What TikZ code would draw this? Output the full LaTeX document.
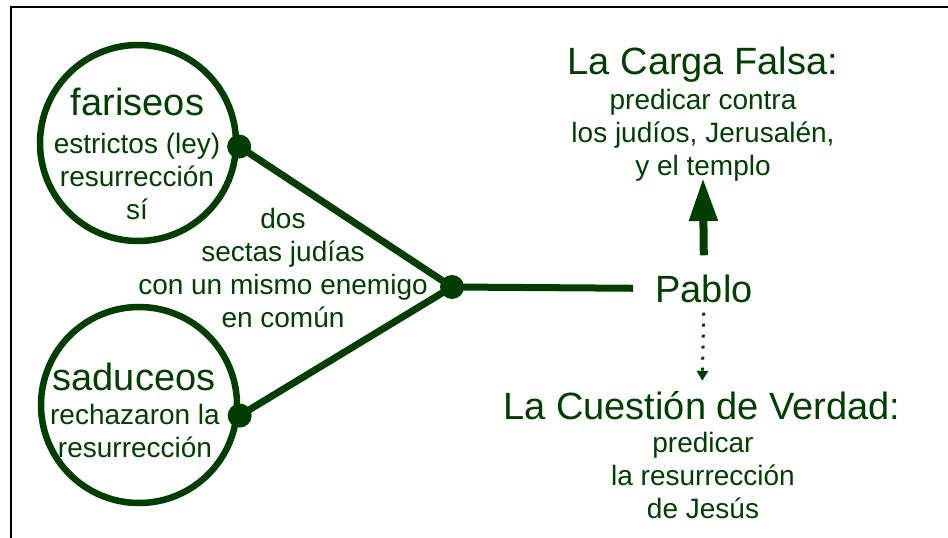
\documentclass[tikz,border=0pt]{standalone}
\usepackage{fontspec}
\setmainfont{Liberation Sans}
\usetikzlibrary{arrows.meta}
\definecolor{dg}{RGB}{0,61,0}
\begin{document}
\begin{tikzpicture}[x=1pt,y=-1pt,
  big/.style={font=\fontsize{38}{44}\selectfont, text=dg, inner sep=0pt, anchor=base},
  small/.style={font=\fontsize{28}{33}\selectfont, text=dg, inner sep=0pt, align=center, anchor=base},
  ring/.style={circle, draw=dg, line width=6.5pt, minimum size=196pt, inner sep=0pt},
  dot/.style={circle, fill=dg, minimum size=24pt, inner sep=0pt},
  link/.style={draw=dg, line width=7pt},
]
\useasboundingbox (0,0) rectangle (948,538);
\draw[line width=2.5pt] (948,7) -- (11,7) -- (11,538);

% circles
\node[ring] (fcirc) at (138,143) {};
\node[ring] (scirc) at (139,405) {};
\node[big] (fname) at (137.5,115) {fariseos};
\node[small] (fbody) at (137,219) {estrictos (ley)\\resurrección\\sí};
\node[big] (sname) at (134,390) {saduceos};
\node[small] (sbody) at (135,457) {rechazaron la\\resurrección};

% dots
\node[dot] (fdot) at (fcirc.-2) {};
\node[dot] (sdot) at (scirc.-6) {};
\node[dot] (jdot) at (452,287) {};

% middle text
\node[small] (mid) at (283,327) {dos\\sectas judías\\con un mismo enemigo\\en común};

% Pablo
\node[big] (pablo) at (704,302) {Pablo};

% top block
\node[big] (cargat) at (703,74) {La Carga Falsa:};
\node[small] (cargab) at (703,175) {predicar contra\\los judíos, Jerusalén,\\y el templo};

% bottom block
\node[big] (cuestt) at (702,419) {La Cuestión de Verdad:};
\node[small] (cuestb) at (703,518) {predicar\\la resurrección\\de Jesús};

% connectors
\draw[link] (fdot.center) -- (jdot.center);
\draw[link] (sdot.center) -- (jdot.center);
\draw[link, shorten >=22pt] (jdot.center) -- (pablo.west);

\draw[dg, line width=8pt, shorten <=19pt, shorten >=-3pt, -{Triangle[width=27pt,length=43pt]}] (pablo.north) -- (cargab.south);
\draw[dg, line width=3pt, dash pattern=on 3pt off 8pt, shorten <=10pt, shorten >=10pt, -{Triangle[width=11pt,length=10pt]}] (pablo.south) -- (cuestt.north);
\end{tikzpicture}
\end{document}
